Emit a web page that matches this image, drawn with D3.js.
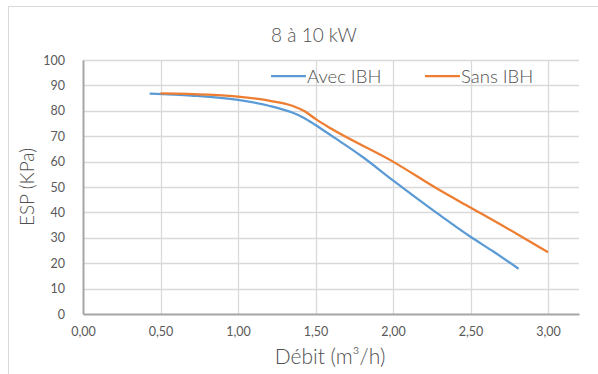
<!DOCTYPE html>
<html>
<head>
<meta charset="utf-8">
<script src="https://cdn.jsdelivr.net/npm/d3@7"></script>
<style>
    body { margin: 0; background: #fff; }
    svg text { font-family: Lato, "Open Sans", sans-serif; fill: #595959; font-weight: 400; }
    svg text.big { font-weight: 300; fill: #505050; }
</style>
</head>
<body>
<svg id="gfx" width="598" height="374"></svg>
<script>
const title = "8 à 10 kW";
const xLabel = "Débit (m³/h)";
const yLabel = "ESP (KPa)";

const seriesNames = ["Avec IBH", "Sans IBH"];
const seriesColors = ["#5B9BD5", "#ED7D31"];

// debit (m3/h) / ESP (kPa)
const avecDebit = [0.43, 0.70, 1.00, 1.20, 1.35, 1.42, 1.50, 1.60, 1.80, 2.00, 2.30, 2.50, 2.65, 2.81];
const avecEsp   = [86.8, 86.0, 84.3, 82.0, 79.3, 77.4, 74.4, 70.3, 62.0, 52.6, 39.0, 30.4, 24.5, 17.8];
const sansDebit = [0.50, 0.80, 1.00, 1.20, 1.35, 1.43, 1.50, 1.60, 2.00, 2.30, 2.50, 2.80, 3.00];
const sansEsp   = [86.9, 86.4, 85.6, 84.0, 82.0, 79.8, 76.8, 73.0, 60.0, 48.8, 41.9, 31.5, 24.3];

const xTicks = [0, 0.5, 1, 1.5, 2, 2.5, 3];
const yTicks = [0, 10, 20, 30, 40, 50, 60, 70, 80, 90, 100];

const svg = d3.select("#gfx");

// outer chart frame (only top / left edges fall inside the window)
svg.append("rect")
    .attr("x", 8.5).attr("y", 6.5)
    .attr("width", 620).attr("height", 400)
    .attr("fill", "none")
    .attr("stroke", "#d9d9d9");

const x = d3.scaleLinear().domain([0, 3.2]).range([83, 579]);
const y = d3.scaleLinear().domain([0, 100]).range([314, 60]);

const fmt = d => d3.format(".2f")(d).replace(".", ",");

// gridlines
svg.append("g")
    .selectAll("line.h")
    .data(yTicks.slice(1))
    .join("line")
    .attr("x1", x(0)).attr("x2", x(3.2))
    .attr("y1", d => Math.round(y(d)) + 0.5).attr("y2", d => Math.round(y(d)) + 0.5)
    .attr("stroke", "#d9d9d9").attr("stroke-width", 1.3);

svg.append("g")
    .selectAll("line.v")
    .data(xTicks.slice(1))
    .join("line")
    .attr("x1", d => Math.round(x(d)) + 0.5).attr("x2", d => Math.round(x(d)) + 0.5)
    .attr("y1", y(0)).attr("y2", y(100))
    .attr("stroke", "#d9d9d9").attr("stroke-width", 1.3);

// axes
const xAxis = svg.append("g")
    .attr("transform", "translate(0," + y(0) + ")")
    .call(d3.axisBottom(x).tickValues(xTicks).tickFormat(fmt).tickSize(0).tickPadding(13));
xAxis.select(".domain").attr("stroke", "#a6a6a6").attr("stroke-width", 2);
xAxis.selectAll("text").attr("font-size", 12.5).style("fill", "#595959");

const yAxis = svg.append("g")
    .attr("transform", "translate(" + x(0) + ",0)")
    .call(d3.axisLeft(y).tickValues(yTicks).tickSize(0).tickPadding(18));
yAxis.select(".domain").attr("stroke", "#a6a6a6").attr("stroke-width", 2);
yAxis.selectAll("text").attr("font-size", 12.5).style("fill", "#595959");

// series
const line = d3.line()
    .x(d => x(d[0]))
    .y(d => y(d[1]))
    .curve(d3.curveMonotoneX);

const series = [
    d3.zip(avecDebit, avecEsp),
    d3.zip(sansDebit, sansEsp)
];

svg.append("g")
    .selectAll("path")
    .data(series)
    .join("path")
    .attr("d", line)
    .attr("fill", "none")
    .attr("stroke", (d, i) => seriesColors[i])
    .attr("stroke-width", 2.25)
    .attr("stroke-linejoin", "round");

// legend
const legendX = [271, 425];
const legend = svg.append("g")
    .selectAll("g")
    .data(seriesNames)
    .join("g")
    .attr("transform", (d, i) => "translate(" + legendX[i] + ",76)");
legend.append("line")
    .attr("x1", 0).attr("x2", 35)
    .attr("stroke", (d, i) => seriesColors[i])
    .attr("stroke-width", 2.25);
legend.append("text")
    .attr("class", "big")
    .attr("x", 36).attr("y", 6.5)
    .attr("font-size", 18.5)
    .text(d => d);

// titles
svg.append("text")
    .attr("class", "big")
    .attr("x", 314).attr("y", 42)
    .attr("text-anchor", "middle")
    .attr("font-size", 19)
    .text(title);

svg.append("text")
    .attr("class", "big")
    .attr("transform", "translate(34,187) rotate(-90)")
    .attr("text-anchor", "middle")
    .attr("font-size", 19)
    .text(yLabel);

svg.append("text")
    .attr("class", "big")
    .attr("x", 330).attr("y", 364)
    .attr("text-anchor", "middle")
    .attr("font-size", 21)
    .text(xLabel);
</script>
</body>
</html>
